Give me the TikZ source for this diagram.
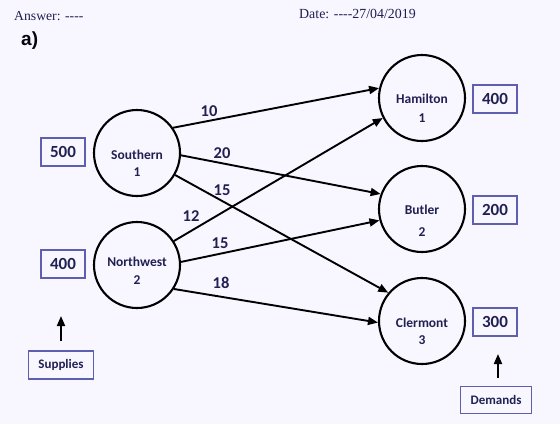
\documentclass[tikz,border=0pt]{standalone}
\usepackage{fontspec}
\setmainfont{Carlito}
\newfontfamily\timesf{Liberation Serif}
\newfontfamily\arialf{Liberation Sans}
\usetikzlibrary{arrows.meta}
\definecolor{bgc}{RGB}{248,246,255}
\definecolor{txc}{RGB}{32,32,82}
\definecolor{boxc}{RGB}{95,95,175}
\tikzset{
  site/.style={draw=black, circle, line width=2.1pt, minimum size=86pt, inner sep=0pt},
  nm/.style={font=\fontsize{13.5}{13.5}\selectfont\bfseries, text=txc, inner sep=0pt},
  qty/.style={draw=boxc, line width=1.1pt, font=\fontsize{17}{17}\selectfont\bfseries, text=txc, minimum width=44pt, minimum height=28pt, inner sep=0pt},
  capbox/.style={draw=boxc, line width=1.1pt, font=\fontsize{13}{13}\selectfont\bfseries, text=txc, minimum height=28pt, inner sep=0pt},
  wt/.style={font=\fontsize{16.5}{16.5}\selectfont\bfseries, text=txc, inner sep=0pt},
  flow/.style={line width=1.9pt, draw=black, -{Triangle[length=10pt,width=8pt]}},
}
\begin{document}
\begin{tikzpicture}[x=1pt,y=1pt]
\fill[bgc] (0,0) rectangle (560,-424);
\useasboundingbox (0,0) rectangle (560,-424);
% header
\node[anchor=west, inner sep=0pt, font=\timesf\fontsize{13.7}{13.7}\selectfont, text=txc] (ans) at (14,-16) {Answer: ----};
\node[anchor=west, inner sep=0pt, font=\timesf\fontsize{13.9}{13.9}\selectfont, text=txc] (date) at (299,-14) {Date: ----27/04/2019};
\node[anchor=west, inner sep=0pt, font=\arialf\bfseries\fontsize{19}{19}\selectfont, text=black!85!txc] (a) at (21,-41) {a)};
% sources
\node[site] (s1) at (137,-153) {};
\node[site] (s2) at (137,-265) {};
\node[nm] (s1t) at (137,-155) {Southern};
\node[nm] (s1k) at (137,-172) {1};
\node[nm] (s2t) at (137,-262) {Northwest};
\node[nm] (s2k) at (137,-280) {2};
% destinations
\node[site] (d1) at (422,-98) {};
\node[site] (d2) at (422,-209) {};
\node[site] (d3) at (422,-321) {};
\node[nm] (d1t) at (422,-99) {Hamilton};
\node[nm] (d1k) at (422,-118) {1};
\node[nm] (d2t) at (422,-210) {Butler};
\node[nm] (d2k) at (422,-232) {2};
\node[nm] (d3t) at (422,-323) {Clermont};
\node[nm] (d3k) at (422,-340) {3};
% quantity boxes
\node[qty] (q1) at (63,-152) {500};
\node[qty] (q2) at (63,-264) {400};
\node[qty] (r1) at (495,-99) {400};
\node[qty] (r2) at (495,-210) {200};
\node[qty] (r3) at (495,-322) {300};
% captions
\node[capbox, minimum width=65pt] (sup) at (61,-365) {Supplies};
\node[capbox, minimum width=71pt, minimum height=27pt] (dem) at (496,-400) {Demands};
\coordinate (supt) at (61,-316);
\coordinate (demt) at (498,-354);
\coordinate (supb) at (61,-341);
\coordinate (demb) at (498,-378);
\draw[flow] (supb) -- (supt);
\draw[flow] (demb) -- (demt);
% flows
\draw[flow] (s1.35) -- (d1.167);
\draw[flow] (s1.-3) -- (d2.160);
\draw[flow] (s1.-30) -- (d3.140);
\draw[flow] (s2.33) -- (d1.207);
\draw[flow] (s2.4) -- (d2.195);
\draw[flow] (s2.-33) -- (d3.182);
% weights
\node[wt] (w1) at (209,-111) {10};
\node[wt] (w2) at (222,-153) {20};
\node[wt] (w3) at (222,-190) {15};
\node[wt] (w4) at (191,-216) {12};
\node[wt] (w5) at (220,-243) {15};
\node[wt] (w6) at (221,-283) {18};
\end{tikzpicture}
\end{document}
